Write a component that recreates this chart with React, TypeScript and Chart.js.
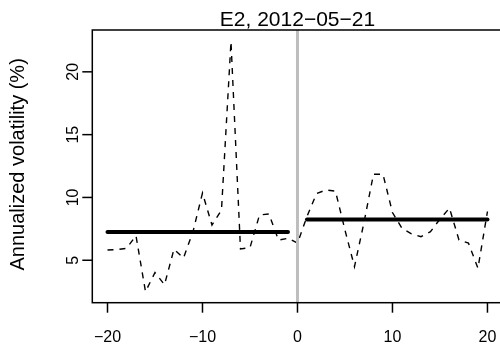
import { useEffect, useRef } from "react";
import { Chart, registerables } from "chart.js";

Chart.register(...registerables);

// Event window around the announcement day
const TITLE = "E2, 2012−05−21";
const Y_LABEL = "Annualized volatility (%)";

const DAYS = [
  -20, -19, -18, -17, -16, -15, -14, -13, -12, -11, -10, -9, -8, -7, -6, -5, -4, -3, -2, -1,
  0, 1, 2, 3, 4, 5, 6, 7, 8, 9, 10, 11, 12, 13, 14, 15, 16, 17, 18, 19, 20,
];
const VOLATILITY = [
  5.82, 5.85, 5.95, 6.95, 2.5, 4.02, 3.05, 5.88, 5.18, 7.28, 10.35, 7.8, 9.0, 22.4, 5.9, 6.0,
  8.6, 8.68, 6.6, 6.75, 6.36, 8.48, 10.3, 10.6, 10.5, 7.4, 4.49, 8.0, 11.85, 11.85, 8.8, 7.55,
  7.1, 6.88, 7.28, 8.27, 9.15, 6.62, 6.36, 4.36, 8.88,
];

// Average volatility before and after the event
const PRE_DAYS = [-20, -1];
const PRE_MEAN = 7.25;
const POST_DAYS = [1, 20];
const POST_MEAN = 8.25;
const EVENT_DAY = 0;

const X_TICKS = [-20, -10, 0, 10, 20];
const Y_TICKS = [5, 10, 15, 20];

// Plot region limits (data range widened by 4% on each side)
const X_RANGE = [-21.6, 21.6];
const Y_RANGE = [1.62, 23.33];

const FONT = "'Liberation Sans', Arial, Helvetica, sans-serif";

const fmt = (v: number) => (v < 0 ? "\u2212" + Math.abs(v) : String(v));

const axesPlugin = {
  id: "baseAxes",
  afterDraw(chart: any) {
    const { ctx } = chart;
    const xs = chart.scales.x;
    const ys = chart.scales.y;
    const left = xs.getPixelForValue(X_RANGE[0]);
    const right = xs.getPixelForValue(X_RANGE[1]);
    const top = ys.getPixelForValue(Y_RANGE[1]);
    const bottom = ys.getPixelForValue(Y_RANGE[0]);

    ctx.save();
    ctx.strokeStyle = "#000";
    ctx.fillStyle = "#000";
    ctx.lineWidth = 1.5;
    ctx.strokeRect(left, top, right - left, bottom - top);

    // x axis
    ctx.font = `16px ${FONT}`;
    ctx.textAlign = "center";
    ctx.textBaseline = "alphabetic";
    for (const t of X_TICKS) {
      const px = xs.getPixelForValue(t);
      ctx.beginPath();
      ctx.moveTo(px, bottom);
      ctx.lineTo(px, bottom + 10);
      ctx.stroke();
      ctx.fillText(fmt(t), px, 341.5);
    }

    // y axis, labels parallel to the axis
    for (const t of Y_TICKS) {
      const py = ys.getPixelForValue(t);
      ctx.beginPath();
      ctx.moveTo(left, py);
      ctx.lineTo(left - 10, py);
      ctx.stroke();
      ctx.save();
      ctx.translate(77.5, py);
      ctx.rotate(-Math.PI / 2);
      ctx.fillText(fmt(t), 0, 0);
      ctx.restore();
    }

    ctx.save();
    ctx.font = `20px ${FONT}`;
    ctx.translate(24, (top + bottom) / 2 - 2);
    ctx.rotate(-Math.PI / 2);
    ctx.fillText(Y_LABEL, 0, 0);
    ctx.restore();

    ctx.font = `21px ${FONT}`;
    ctx.fillText(TITLE, xs.getPixelForValue((X_RANGE[0] + X_RANGE[1]) / 2), 26);
    ctx.restore();
  },
};

export default function App() {
  const ref = useRef<HTMLCanvasElement>(null);

  useEffect(() => {
    const canvas = ref.current;
    if (!canvas) return;

    const series = DAYS.map((d, i) => ({ x: d, y: VOLATILITY[i] }));

    const chart = new Chart(canvas, {
      type: "line",
      data: {
        datasets: [
          {
            data: [
              { x: EVENT_DAY, y: Y_RANGE[0] },
              { x: EVENT_DAY, y: Y_RANGE[1] },
            ],
            borderColor: "#bebebe",
            borderWidth: 3,
            pointRadius: 0,
          },
          {
            data: PRE_DAYS.map((d) => ({ x: d, y: PRE_MEAN })),
            borderColor: "#000",
            borderWidth: 4,
            borderCapStyle: "round",
            pointRadius: 0,
          },
          {
            data: POST_DAYS.map((d) => ({ x: d, y: POST_MEAN })),
            borderColor: "#000",
            borderWidth: 4,
            borderCapStyle: "round",
            pointRadius: 0,
          },
          {
            data: series,
            borderColor: "#000",
            borderWidth: 1.4,
            borderDash: [6, 6],
            pointRadius: 0,
            tension: 0,
          },
        ],
      },
      options: {
        responsive: false,
        animation: false,
        devicePixelRatio: 1,
        layout: { padding: { left: 92.3, top: 30, right: 0, bottom: 44.3 } },
        scales: {
          x: { type: "linear", min: X_RANGE[0], max: 21.32, display: false },
          y: { type: "linear", min: Y_RANGE[0], max: Y_RANGE[1], display: false },
        },
        plugins: {
          legend: { display: false },
          tooltip: { enabled: false },
        },
      },
      plugins: [axesPlugin],
    });

    return () => chart.destroy();
  }, []);

  return (
    <div style={{ position: "fixed", left: 0, top: 0, width: 500, height: 347, background: "#fff" }}>
      <canvas ref={ref} width={500} height={347} style={{ display: "block" }} />
    </div>
  );
}
